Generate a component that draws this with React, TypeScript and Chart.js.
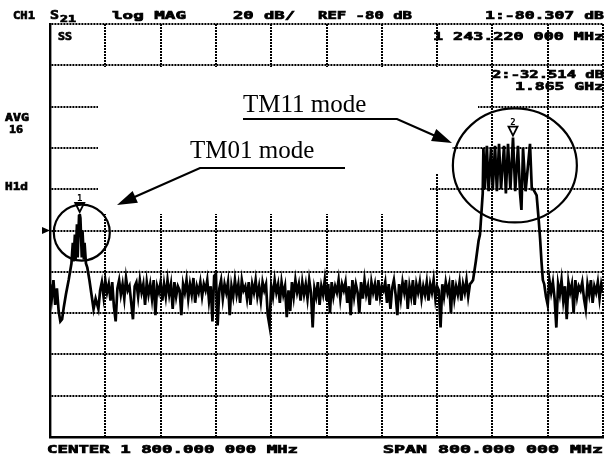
import React, { useEffect, useRef } from "react";
import { Chart, registerables } from "chart.js";

Chart.register(...registerables);

// ---- instrument settings ----
const START_MHZ = 1400;
const STOP_MHZ = 2200;
const MHZ_PER_DIV = 80;
const TOP_DB = 20;
const BOTTOM_DB = -180;
const DB_PER_DIV = 20;
const REF_DB = -80;
const NOISE_STEP_MHZ = 2.5;

// ---- trace data (dB) ----
const leftNoiseStartMHz = 1400;
const leftNoiseDb = [-106, -113, -104, -116, -108, -119, -124];

const tm01FreqMHz = [1417.5, 1420, 1423, 1427, 1431, 1433, 1434, 1436, 1437, 1439, 1440, 1442, 1443, 1444, 1446, 1447, 1449, 1450, 1452, 1454, 1457, 1460, 1463, 1466];
const tm01Db = [-123, -117, -111, -104, -96, -86, -95, -82, -94, -77, -93, -73, -72, -74, -93, -80, -94, -86, -96, -98, -104, -111, -118, -113];

const midNoiseStartMHz = 1470;
const midNoiseDb = [
  -118, -109, -105, -112, -104, -110, -106, -114, -105, -117,
  -124, -108, -104, -111, -106, -113, -103, -109, -107, -115,
  -123, -107, -105, -112, -104, -110, -106, -116, -105, -111,
  -106, -113, -104, -121, -107, -110, -105, -114, -106, -112,
  -104, -111, -106, -118, -105, -112, -107, -109, -121, -106,
  -110, -104, -113, -106, -111, -103, -115, -107, -110, -105,
  -112, -106, -109, -104, -114, -107, -124, -102, -101, -126,
  -108, -104, -113, -106, -110, -105, -121, -107, -112, -104,
  -111, -106, -115, -104, -109, -107, -113, -105, -116, -106,
  -110, -104, -112, -107, -114, -105, -109, -106, -121, -126,
  -107, -112, -104, -110, -106, -115, -105, -111, -107, -122,
  -109, -119, -105, -112, -104, -110, -106, -114, -105, -111,
  -106, -113, -104, -110, -127, -108, -112, -105, -116, -107,
  -111, -104, -114, -106, -120, -105, -112, -107, -110, -104,
  -113, -106, -109, -105, -115, -107, -121, -104, -112, -106,
  -110, -120, -105, -113, -104, -111, -107, -116, -105, -110,
  -106, -114, -104, -112, -107, -109, -105, -115, -106, -118,
  -108, -104, -111, -121, -106, -113, -105, -110, -104, -118,
  -107, -112, -104, -116, -106, -110, -105, -113, -107, -111,
  -105, -114, -106, -110, -104, -113, -107, -109, -127, -106,
  -112, -105, -110, -106, -120, -104, -113, -107, -111, -105,
  -114, -106, -110, -104, -112, -106, -105,
];

const tm11FreqMHz = [2012, 2016, 2020, 2022, 2024, 2026, 2027, 2029, 2032, 2034.5, 2038, 2040.5, 2043.8, 2046.5, 2049.6, 2052.5, 2056.8, 2059.5, 2062.6, 2066, 2069.8, 2073, 2077, 2080, 2082, 2084.3, 2088, 2094.4, 2097, 2099, 2104, 2107, 2109, 2111, 2113];
const tm11Db = [-104, -95, -85, -82, -72, -62, -40, -60, -39, -61, -40, -60, -39, -61, -38, -60, -39, -62, -38, -60, -35, -61, -39, -62, -70, -40, -61, -38, -60, -60, -63, -75, -84, -95, -104];

const rightNoiseStartMHz = 2115;
const rightNoiseDb = [
  -106, -112, -116, -104, -110, -105, -113, -127, -106, -111,
  -104, -114, -107, -123, -105, -110, -106, -120, -104, -112,
  -107, -109, -105, -113, -118, -106, -111, -104, -115, -107,
  -110, -105, -113, -106, -110,
];

// markers and annotation circles (data units)
const marker1 = { f: 1443, db: -72, label: "1" };
const marker2 = { f: 2069.8, db: -35, label: "2" };
const circleTM01 = { f: 1446, db: -81, rx: 28, ry: 28 };
const circleTM11 = { f: 2072.5, db: -48.5, rx: 62, ry: 57 };

// texts
const headerTexts = [
  { t: "CH1", x: 13, y: 19, w: 22 },
  { t: "log MAG", x: 112, y: 19, w: 74 },
  { t: "20 dB/", x: 233, y: 19, w: 62 },
  { t: "REF -80 dB", x: 318, y: 19, w: 94 },
  { t: "1:-80.307 dB", x: 485, y: 19, w: 119 },
  { t: "SS", x: 58, y: 40, w: 14 },
  { t: "1 243.220 000 MHz", x: 433, y: 40, w: 171 },
  { t: "2:-32.514 dB", x: 492, y: 78, w: 112 },
  { t: "1.865 GHz", x: 515, y: 90, w: 89 },
  { t: "AVG", x: 5, y: 121, w: 24 },
  { t: "16", x: 9, y: 133, w: 14 },
  { t: "H1d", x: 5, y: 190, w: 23 },
  { t: "CENTER 1 800.000 000 MHz", x: 47, y: 453, w: 251 },
  { t: "SPAN 800.000 000 MHz", x: 383, y: 453, w: 220 },
];

function buildTrace() {
  const pts: { x: number; y: number }[] = [];
  leftNoiseDb.forEach((v, i) => pts.push({ x: leftNoiseStartMHz + i * NOISE_STEP_MHZ, y: v }));
  tm01FreqMHz.forEach((f, i) => pts.push({ x: f, y: tm01Db[i] }));
  midNoiseDb.forEach((v, i) => pts.push({ x: midNoiseStartMHz + i * NOISE_STEP_MHZ, y: v }));
  tm11FreqMHz.forEach((f, i) => pts.push({ x: f, y: tm11Db[i] }));
  rightNoiseDb.forEach((v, i) => pts.push({ x: rightNoiseStartMHz + i * NOISE_STEP_MHZ, y: v }));
  return pts;
}

function fitText(ctx: CanvasRenderingContext2D, t: string, x: number, y: number, w: number, size = 11) {
  ctx.save();
  ctx.font = `bold ${size}px "DejaVu Sans Mono"`;
  const w0 = ctx.measureText(t).width;
  ctx.translate(x, y);
  ctx.scale(w / w0, 1);
  ctx.lineWidth = 0.7;
  ctx.strokeStyle = "#000";
  ctx.fillText(t, 0, 0);
  ctx.strokeText(t, 0, 0);
  ctx.restore();
}

function arrowHead(ctx: CanvasRenderingContext2D, fx: number, fy: number, tx: number, ty: number, len: number, half: number) {
  const a = Math.atan2(ty - fy, tx - fx);
  const bx = tx - len * Math.cos(a);
  const by = ty - len * Math.sin(a);
  ctx.beginPath();
  ctx.moveTo(tx, ty);
  ctx.lineTo(bx + half * Math.sin(a), by - half * Math.cos(a));
  ctx.lineTo(bx - half * Math.sin(a), by + half * Math.cos(a));
  ctx.closePath();
  ctx.fill();
}

const annotPlugin = {
  id: "annot",
  beforeDatasetsDraw(chart: any) {
    const ctx: CanvasRenderingContext2D = chart.ctx;
    ctx.save();
    ctx.fillStyle = "#fff";
    ctx.fillRect(98, 67, 332, 147);
    ctx.fillRect(430, 67, 22, 106);
    ctx.fillRect(452, 67, 26, 63);
    ctx.restore();
  },
  afterDatasetsDraw(chart: any) {
    const ctx: CanvasRenderingContext2D = chart.ctx;
    const xs = chart.scales.x;
    const ys = chart.scales.y;
    ctx.save();
    ctx.fillStyle = "#000";
    ctx.strokeStyle = "#000";

    // circles
    ctx.lineWidth = 2.2;
    [circleTM01, circleTM11].forEach((c) => {
      ctx.beginPath();
      ctx.ellipse(xs.getPixelForValue(c.f), ys.getPixelForValue(c.db), c.rx, c.ry, 0, 0, Math.PI * 2);
      ctx.stroke();
    });

    // markers
    [marker1, marker2].forEach((m) => {
      const px = xs.getPixelForValue(m.f);
      const py = ys.getPixelForValue(m.db) - 2;
      ctx.lineWidth = 1.8;
      ctx.beginPath();
      ctx.moveTo(px, py);
      ctx.lineTo(px - 4.5, py - 9);
      ctx.lineTo(px + 4.5, py - 9);
      ctx.closePath();
      ctx.stroke();
      ctx.font = 'bold 9px "DejaVu Sans Mono"';
      ctx.textAlign = "center";
      ctx.fillText(m.label, px, py - 11);
      ctx.textAlign = "left";
    });

    // reference marker at left
    const ry = ys.getPixelForValue(REF_DB);
    const lx = chart.chartArea.left;
    ctx.beginPath();
    ctx.moveTo(lx, ry);
    ctx.lineTo(lx - 8, ry - 3.5);
    ctx.lineTo(lx - 8, ry + 3.5);
    ctx.closePath();
    ctx.fill();

    // TM labels
    ctx.font = '25px "Liberation Serif"';
    ctx.fillText("TM11 mode", 243, 112);
    ctx.fillText("TM01 mode", 190, 158);

    ctx.lineWidth = 2.2;
    // TM11 arrow
    ctx.beginPath();
    ctx.moveTo(243, 119);
    ctx.lineTo(397, 119);
    ctx.lineTo(440, 138);
    ctx.stroke();
    arrowHead(ctx, 397, 119, 452, 143, 20, 6.5);
    // TM01 arrow
    ctx.beginPath();
    ctx.moveTo(345, 168);
    ctx.lineTo(200, 168);
    ctx.lineTo(130, 199);
    ctx.stroke();
    arrowHead(ctx, 200, 168, 117, 205, 20, 6.5);

    // instrument texts
    headerTexts.forEach((h) => fitText(ctx, h.t, h.x, h.y, h.w));
    // S21 parameter
    fitText(ctx, "S", 50, 19, 9, 12);
    fitText(ctx, "21", 60, 22, 16, 9);
    ctx.restore();
  },
};

export default function App() {
  const ref = useRef<HTMLCanvasElement>(null);
  useEffect(() => {
    const gridCommon = {
      color: "#000",
      lineWidth: 2,
      drawTicks: false,
    };
    const chart = new Chart(ref.current!, {
      type: "line",
      data: {
        datasets: [
          {
            data: buildTrace(),
            borderColor: "#000",
            borderWidth: 2.7,
            pointRadius: 0,
            tension: 0,
          },
        ],
      },
      options: {
        animation: false,
        responsive: false,
        maintainAspectRatio: false,
        layout: { padding: { left: 50, top: 24, right: 1, bottom: 22 } },
        plugins: { legend: { display: false }, tooltip: { enabled: false } },
        scales: {
          x: {
            type: "linear",
            min: START_MHZ,
            max: STOP_MHZ,
            ticks: { display: false, stepSize: MHZ_PER_DIV },
            grid: gridCommon,
            border: { display: true, color: "#000", width: 2.4, dash: [2, 1] },
          },
          y: {
            type: "linear",
            min: BOTTOM_DB,
            max: TOP_DB,
            ticks: { display: false, stepSize: DB_PER_DIV },
            grid: gridCommon,
            border: { display: true, color: "#000", width: 2.4, dash: [2, 1] },
          },
        },
      },
      plugins: [annotPlugin],
    } as any);
    return () => chart.destroy();
  }, []);
  return (
    <div style={{ position: "fixed", left: 0, top: 0, width: 604, height: 459, background: "#fff" }}>
      <canvas ref={ref} width={604} height={459} style={{ width: 604, height: 459, display: "block" }} />
    </div>
  );
}
